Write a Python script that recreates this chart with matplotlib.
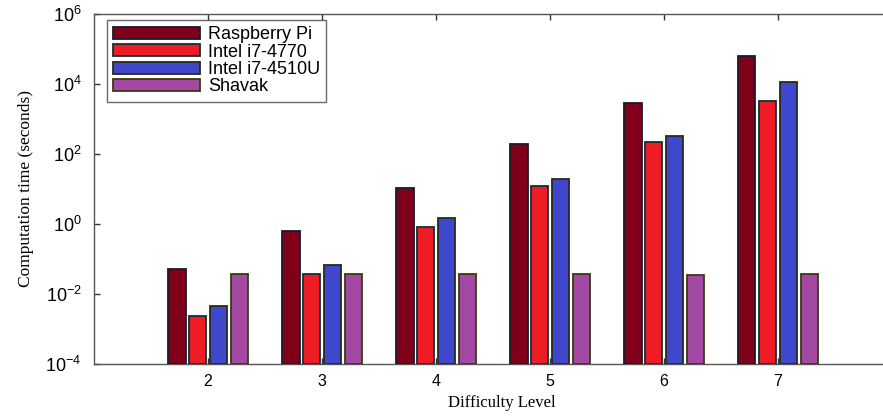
import matplotlib
matplotlib.use("Agg")
import matplotlib.pyplot as plt
import numpy as np

levels = [2, 3, 4, 5, 6, 7]
series_names = ["Raspberry Pi", "Intel i7-4770", "Intel i7-4510U", "Shavak"]
raspberry_pi = [0.051, 0.63, 11, 193, 2930, 63000]
intel_4770 = [0.0022, 0.037, 0.83, 12.4, 225, 3350]
intel_4510u = [0.0044, 0.067, 1.45, 19, 335, 11700]
shavak = [0.036, 0.036, 0.036, 0.036, 0.035, 0.036]
ytick_vals = [1e-4, 1e-2, 1e0, 1e2, 1e4, 1e6]
ytick_labels = ["$10^{-4}$", "$10^{-2}$", "$10^{0}$", "$10^{2}$", "$10^{4}$", "$10^{6}$"]

colors = ["#80001a", "#ee1c25", "#3f48cc", "#a349a4"]
edges = ["#1a1a2e", "#10303a", "#2a2a1a", "#3a3a10"]

plt.rcParams['mathtext.fontset'] = 'custom'
plt.rcParams['mathtext.rm'] = 'Liberation Sans'
plt.rcParams['mathtext.it'] = 'Liberation Sans'

fig = plt.figure(figsize=(8.83, 4.18), dpi=100)
ax = fig.add_axes([0.1065, 0.1292, 0.9037, 0.8373])
ax.set_yscale('log')

x = np.array(levels, dtype=float)
offsets = [-0.276, -0.092, 0.092, 0.276]
width = 0.157
data = [raspberry_pi, intel_4770, intel_4510u, shavak]
for i, (vals, name) in enumerate(zip(data, series_names)):
    ax.bar(x + offsets[i], vals, width=width, bottom=1e-4, color=colors[i],
           edgecolor=edges[i], linewidth=1.3, label=name, zorder=3)

ax.set_xlim(1, 8)
ax.set_ylim(1e-4, 1e6)
ax.set_xticks(levels)
ax.set_xticklabels([str(v) for v in levels], fontfamily='Liberation Sans', fontsize=11.5)
ax.set_yticks(ytick_vals)
ax.set_yticklabels(ytick_labels, fontsize=13)
ax.yaxis.set_minor_locator(matplotlib.ticker.NullLocator())
ax.tick_params(direction='in', length=4, width=1, color='#333333', top=True, right=True)
ax.tick_params(axis='y', pad=9)
ax.tick_params(axis='x', pad=7)
for s in ax.spines.values():
    s.set_color('#555555')
    s.set_linewidth(1.0)

ax.set_xlabel("Difficulty Level", fontfamily='Liberation Serif', fontsize=12)
ax.xaxis.set_label_coords(0.511, -0.09)
ax.set_ylabel("Computation time (seconds)", fontfamily='Liberation Serif', fontsize=12.5, labelpad=8)

leg = ax.legend(loc='upper left', bbox_to_anchor=(0.016, 0.983), borderaxespad=0,
                prop={'family': 'Liberation Sans', 'size': 13}, handlelength=4.8,
                handleheight=0.65, labelspacing=0.02, fancybox=False, frameon=True,
                borderpad=0.35, handletextpad=0.45)
leg.get_frame().set_edgecolor('#444444')
leg.get_frame().set_linewidth(1.0)

fig.savefig("out.png", dpi=100)
